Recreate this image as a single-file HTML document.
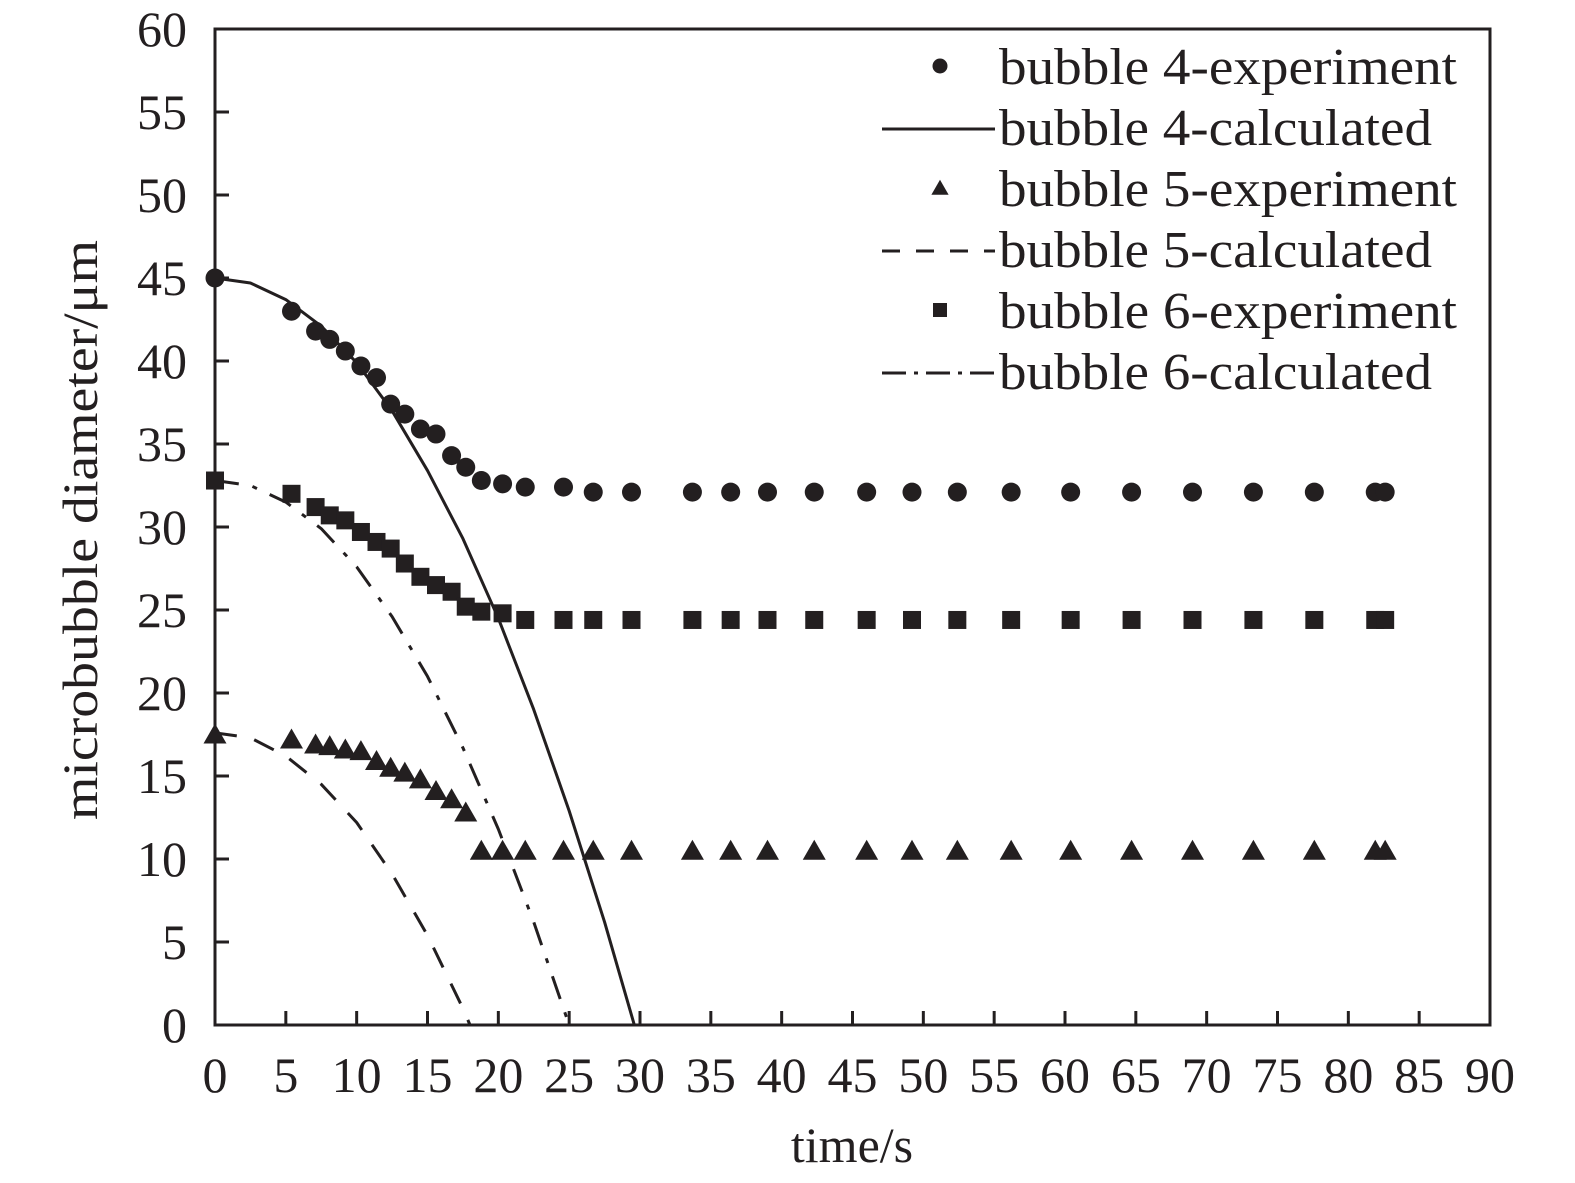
<!DOCTYPE html>
<html><head><meta charset="utf-8"><style>
html,body{margin:0;padding:0;background:#fff}
svg{display:block;font-family:"Liberation Serif",serif;fill:#231f20}
</style></head><body>
<svg id="chart" width="1575" height="1183" viewBox="0 0 1575 1183" xmlns="http://www.w3.org/2000/svg"></svg>
<script>
const xTicks=[0,5,10,15,20,25,30,35,40,45,50,55,60,65,70,75,80,85,90];
const yTicks=[0,5,10,15,20,25,30,35,40,45,50,55,60];
const expT=[0,5.4,7.1,8.1,9.2,10.3,11.4,12.4,13.4,14.5,15.6,16.7,17.7,18.8,20.3,21.9,24.6,26.7,29.4,33.7,36.4,39.0,42.3,46.0,49.2,52.4,56.2,60.4,64.7,69.0,73.3,77.6,81.9,82.6];
const b4Exp=[45,43,41.8,41.3,40.6,39.7,39.0,37.4,36.8,35.9,35.6,34.3,33.6,32.8,32.6,32.4,32.4,32.1,32.1,32.1,32.1,32.1,32.1,32.1,32.1,32.1,32.1,32.1,32.1,32.1,32.1,32.1,32.1,32.1];
const b6Exp=[32.8,32.0,31.2,30.7,30.4,29.7,29.1,28.7,27.8,27.0,26.5,26.1,25.2,24.9,24.8,24.4,24.4,24.4,24.4,24.4,24.4,24.4,24.4,24.4,24.4,24.4,24.4,24.4,24.4,24.4,24.4,24.4,24.4,24.4];
const b5Exp=[17.5,17.2,16.9,16.8,16.6,16.5,15.9,15.5,15.2,14.8,14.1,13.6,12.8,10.5,10.5,10.5,10.5,10.5,10.5,10.5,10.5,10.5,10.5,10.5,10.5,10.5,10.5,10.5,10.5,10.5,10.5,10.5,10.5,10.5];
const b4CalcT=[0,2.5,5,7.5,10,12.5,15,17.5,20,22.5,25,27.5,29.6];
const b4Calc=[45,44.7,43.7,42.1,39.9,37.0,33.4,29.3,24.5,19.0,12.9,6.2,0];
const b6CalcT=[0,2.5,5,7.5,10,12.5,15,17.5,20,22.5,25];
const b6Calc=[32.8,32.5,31.5,29.9,27.6,24.6,21.0,16.7,11.8,6.2,0];
const b5CalcT=[0,2.5,5,7.5,10,12.5,15,17.5,18];
const b5Calc=[17.6,17.3,16.2,14.5,12.2,9.1,5.4,1.0,0];

const X0=215,X1=1490,Y0=1025,Y1=29;
const sx=v=>X0+(v-0)/(90-0)*(X1-X0);
const sy=v=>Y0-(v-0)/(60-0)*(Y0-Y1);
const svg=document.getElementById('chart');
const NS='http://www.w3.org/2000/svg';
function mk(tag,attrs,parent){const e=document.createElementNS(NS,tag);for(const k in attrs)e.setAttribute(k,attrs[k]);(parent||svg).appendChild(e);return e;}

const frame=mk('rect',{x:X0,y:Y1,width:X1-X0,height:Y0-Y1,fill:'none',stroke:'#231f20','stroke-width':3});



xTicks.forEach(t=>{
  const l=mk('line',{x1:sx(t),x2:sx(t),y1:Y0,y2:Y0-14,stroke:'#231f20','stroke-width':3});
  
  
  const tx=mk('text',{x:sx(t),y:1092,'text-anchor':'middle','font-size':50});
  tx.textContent=t;
  
  
});
yTicks.forEach(t=>{
  const l=mk('line',{x1:X0,x2:X0+14,y1:sy(t),y2:sy(t),stroke:'#231f20','stroke-width':3});
  
  
  const tx=mk('text',{x:187,y:sy(t)+17,'text-anchor':'end','font-size':50});
  tx.textContent=t;
  
  
});
const xt=mk('text',{x:852,y:1162,'text-anchor':'middle','font-size':50});
xt.textContent='time/s';


const yt=mk('text',{x:0,y:0,'text-anchor':'middle','font-size':50,textLength:580,lengthAdjust:'spacingAndGlyphs',transform:'translate(97,530) rotate(-90)'});
yt.textContent='microbubble diameter/μm';



function line(ts,vs,dash,name){
  const p=mk('polyline',{points:ts.map((t,i)=>sx(t)+','+sy(vs[i])).join(' '),fill:'none',stroke:'#231f20','stroke-width':3,'stroke-dasharray':dash,'stroke-linejoin':'round'});
  
  
}
line(b4CalcT,b4Calc,'none','bubble-4-calculated-line');
line(b5CalcT,b5Calc,'22 18','bubble-5-calculated-line');
line(b6CalcT,b6Calc,'24 14 5 14','bubble-6-calculated-line');

function marker(type,x,y,s){
  if(type==='c')return mk('circle',{cx:x,cy:y,r:s,fill:'#231f20'});
  if(type==='s')return mk('rect',{x:x-s,y:y-s,width:2*s,height:2*s,fill:'#231f20'});
  return mk('polygon',{points:`${x},${y-s*1.1} ${x-s*1.15},${y+s*0.9} ${x+s*1.15},${y+s*0.9}`,fill:'#231f20'});
}
expT.forEach((t,i)=>{
  const c=marker('c',sx(t),sy(b4Exp[i]),9.5);
  
  
  const s=marker('s',sx(t),sy(b6Exp[i]),9);
  
  
  const tr=marker('t',sx(t),sy(b5Exp[i]),10);
  
  
});

const leg=[['c','bubble 4-experiment'],['l','bubble 4-calculated','none'],['t','bubble 5-experiment'],['l','bubble 5-calculated','18 16'],['s','bubble 6-experiment'],['l','bubble 6-calculated','24 8 4 8']];
leg.forEach((e,i)=>{
  const cy=68+i*61;
  if(e[0]==='l'){
    const l=mk('line',{x1:882,x2:995,y1:cy,y2:cy,stroke:'#231f20','stroke-width':3,'stroke-dasharray':e[2]});
    
    
  } else {
    const m=marker(e[0],940,cy-2,e[0]==='s'?7:7.5);
    
    
  }
  const tx=mk('text',{x:999,y:cy+16,'font-size':52,textLength:e[1].includes('experiment')?458:433,lengthAdjust:'spacingAndGlyphs'});
  tx.textContent=e[1];
  
  
});
</script>
</body></html>
